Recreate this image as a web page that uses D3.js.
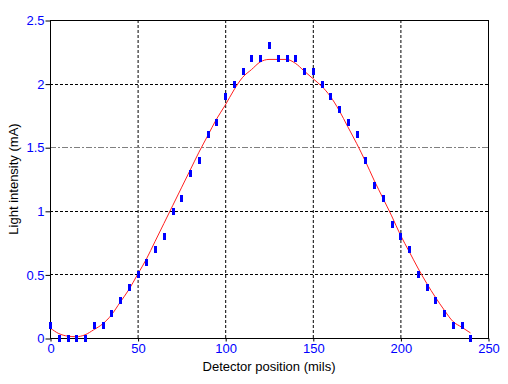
<!DOCTYPE html>
<html><head><meta charset="utf-8">
<script src="https://cdn.jsdelivr.net/npm/d3@7"></script>
<style>body{margin:0;background:#fff}svg{display:block}</style>
</head><body>
<svg id="c" width="508" height="384"></svg>
<script>
const xTicks = [0, 50, 100, 150, 200, 250];
const yTicks = [0, 0.5, 1, 1.5, 2, 2.5];
const yTickLabels = ["0", "0.5", "1", "1.5", "2", "2.5"];
const pointX = [0,5,10,15,20,25,30,35,40,45,50,55,60,65,70,75,80,85,90,95,100,105,110,115,120,125,130,135,140,145,150,155,160,165,170,175,180,185,190,195,200,205,210,215,220,225,230,235,240];
const pointY = [0.1,0,0,0,0,0.1,0.1,0.2,0.3,0.4,0.5,0.6,0.7,0.8,1.0,1.1,1.3,1.4,1.6,1.7,1.9,2.0,2.1,2.2,2.2,2.3,2.2,2.2,2.2,2.1,2.1,2.0,1.9,1.8,1.7,1.6,1.4,1.2,1.1,0.9,0.8,0.7,0.5,0.4,0.3,0.2,0.1,0.1,0];
const fitX = [0,5,10,15,20,25,30,35,40,45,50,55,60,65,70,75,80,85,90,95,100,105,110,115,120,125,130,135,140,145,150,155,160,165,170,175,180,185,190,195,200,205,210,215,220,225,230,235,240];
const fitY = [0.08,0.035,0.015,0.01,0.025,0.065,0.11,0.18,0.28,0.38,0.5,0.62,0.76,0.9,1.04,1.18,1.32,1.46,1.59,1.72,1.83,1.95,2.05,2.11,2.17,2.19,2.19,2.19,2.16,2.1,2.04,1.98,1.9,1.79,1.66,1.53,1.39,1.24,1.1,0.96,0.81,0.68,0.55,0.43,0.32,0.22,0.13,0.085,0.04];
const xTitle = "Detector position (mils)";
const yTitle = "Light intensity (mA)";

const svg = d3.select("#c");
const L = 50, R = 488, T = 20, B = 338;
const x = d3.scaleLinear().domain([0, 250]).range([L, R]);
const y = d3.scaleLinear().domain([0, 2.5]).range([B, T]);
const font = "'Liberation Sans', Arial, sans-serif";

// gridlines
const g = svg.append("g");
g.selectAll("line.vx").data(xTicks.filter(d => d > 0 && d < 250)).enter().append("line")
  .attr("x1", d => x(d) + 0.5).attr("x2", d => x(d) + 0.5).attr("y1", T).attr("y2", B)
  .attr("stroke", "#000").attr("stroke-dasharray", "3,2").attr("stroke-width", 1);
g.selectAll("line.hy").data(yTicks.filter(d => d > 0 && d < 2.5)).enter().append("line")
  .attr("y1", d => Math.round(y(d)) + 0.5).attr("y2", d => Math.round(y(d)) + 0.5).attr("x1", L).attr("x2", R)
  .attr("stroke", d => d === 1.5 ? "#808080" : "#000")
  .attr("stroke-dasharray", d => d === 1.5 ? "6,2,2,2" : "3,2").attr("stroke-width", 1);

// frame
svg.append("rect").attr("x", L + 0.5).attr("y", T + 0.5).attr("width", R - L).attr("height", B - T)
  .attr("fill", "none").attr("stroke", "#000").attr("stroke-width", 1);

// axes
const xa = svg.append("g").attr("transform", `translate(0.5,${B + 0.5})`)
  .call(d3.axisBottom(x).tickValues(xTicks).tickSize(3).tickPadding(2).tickFormat(d3.format("d")));
const ya = svg.append("g").attr("transform", `translate(${L + 0.5},0.5)`)
  .call(d3.axisLeft(y).tickValues(yTicks).tickSize(5).tickPadding(1).tickFormat((d, i) => yTickLabels[i]));
[xa, ya].forEach(a => {
  a.select(".domain").remove();
  a.selectAll("line").attr("stroke", "#000");
  a.selectAll("text").attr("fill", "#0000ff").style("font-family", font).style("font-size", "13px");
});

// fit curve
const pts = fitX.map((v, i) => [v, fitY[i]]);
svg.append("path").datum(pts)
  .attr("d", d3.line().x(d => x(d[0])).y(d => y(d[1])).curve(d3.curveMonotoneX))
  .attr("fill", "none").attr("stroke", "#ff2020").attr("stroke-width", 1);

// data points
svg.selectAll("rect.pt").data(pointX.map((v, i) => [v, pointY[i]])).enter().append("rect")
  .attr("x", d => Math.round(x(d[0])) - 1).attr("y", d => Math.round(y(d[1])) - 3)
  .attr("width", 3).attr("height", 7).attr("fill", "#0000ff");

// titles
svg.append("text").attr("x", (L + R) / 2).attr("y", 371).attr("text-anchor", "middle")
  .style("font-family", font).style("font-size", "13px").attr("fill", "#000").text(xTitle);
svg.append("text").attr("transform", `translate(18,${(T + B) / 2}) rotate(-90)`).attr("text-anchor", "middle")
  .style("font-family", font).style("font-size", "13px").attr("fill", "#000").text(yTitle);
</script>
</body></html>
